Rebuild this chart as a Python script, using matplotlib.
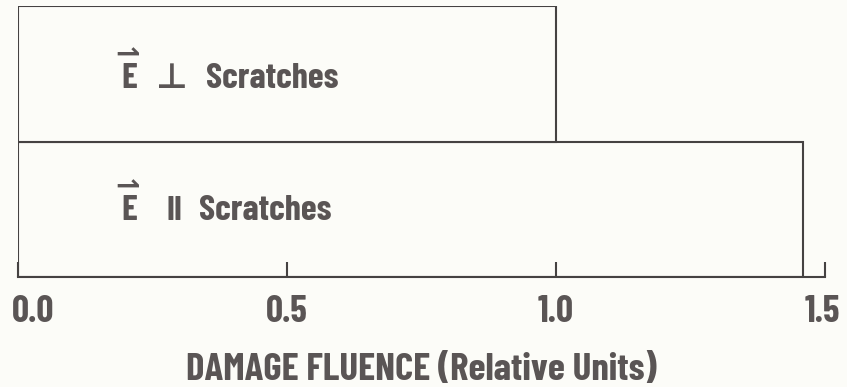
import matplotlib
matplotlib.use("Agg")
import matplotlib.pyplot as plt
from matplotlib.transforms import ScaledTranslation

# Relative damage fluence for the two scratch orientations (bottom to top)
orientation_symbols = ["II", "\u22a5"]
fluence = [1.46, 1.00]
tick_values = [0.0, 0.5, 1.0, 1.5]
tick_labels = ["0.0", "0.5", "1.0", "1.5"]
x_label = "DAMAGE FLUENCE (Relative Units)"

bg = "#fcfcf8"
ink = "#454242"
txt = "#5a5555"

plt.rcParams["font.family"] = ["Barlow Condensed", "DejaVu Sans"]
plt.rcParams["font.weight"] = 700

fig = plt.figure(figsize=(8.47, 3.87), dpi=100, facecolor=bg)
ax = fig.add_axes([18 / 847, 110 / 387, (825 - 18) / 847, (381 - 110) / 387])
ax.set_facecolor(bg)

ypos = list(range(len(fluence)))
ax.barh(ypos, fluence, height=1.0, left=0, color=bg, edgecolor=ink, linewidth=1.5)

ax.set_xlim(0, 1.5)
ax.set_ylim(-0.5, len(fluence) - 0.5)
for s in ["top", "left", "right"]:
    ax.spines[s].set_visible(False)
ax.spines["bottom"].set_color(ink)
ax.spines["bottom"].set_linewidth(1.5)
ax.spines["bottom"].set_capstyle("projecting")
ax.set_yticks([])
ax.set_xticks(tick_values)
ax.set_xticklabels(tick_labels)
ax.tick_params(axis="x", direction="in", length=10.8, width=1.5, color=ink,
               pad=13, labelsize=27, labelcolor=txt)
for t in ax.xaxis.get_major_ticks():
    t.tick1line.set_clip_on(False)

# nudge the end labels so they stay inside the figure
labels = ax.get_xticklabels()
labels[0].set_transform(labels[0].get_transform() + ScaledTranslation(15 / 100, 0, fig.dpi_scale_trans))
labels[-1].set_transform(labels[-1].get_transform() + ScaledTranslation(-3 / 100, 0, fig.dpi_scale_trans))

# bar annotations: field vector E, orientation symbol, "Scratches"
sym_x = [0.276, 0.256]
sym_size = [25, 25]
sym_family = [["Barlow Condensed"], ["DejaVu Sans"]]
word_x = [0.337, 0.350]
base_dy = [-0.08, -0.105]
for y, sym, sx, ss, sf, wx, d in zip(ypos, orientation_symbols, sym_x, sym_size,
                                     sym_family, word_x, base_dy):
    ax.text(0.193, y + d, "E", ha="left", va="baseline", fontsize=26, color=txt)
    ax.annotate("\u21c0", xy=(0.193, y + d), xytext=(-5, 17.5), textcoords="offset points",
                ha="left", va="baseline", fontsize=21, color=txt,
                family=["DejaVu Sans"], fontweight="bold")
    ax.text(sx, y + d, sym, ha="left", va="baseline", fontsize=ss,
            color=txt, family=sf, fontweight="bold")
    ax.text(wx, y + d, "Scratches", ha="left", va="baseline", fontsize=26,
            color=txt)

ax.set_xlabel(x_label, fontsize=28, color=txt, fontweight=700, labelpad=17)

fig.savefig("out.png", dpi=100, facecolor=bg)
